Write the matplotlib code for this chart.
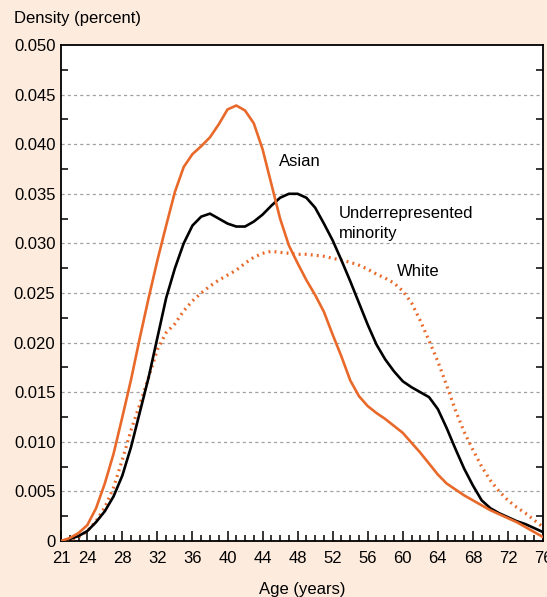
import matplotlib
matplotlib.use("Agg")
import matplotlib.pyplot as plt
from matplotlib.ticker import MultipleLocator, FixedLocator

plt.rcParams['font.family'] = ['Liberation Sans', 'DejaVu Sans']

ages = list(range(21, 77))
asian = [0, 0.0003, 0.0008, 0.0016, 0.0033, 0.0058, 0.0088, 0.0125, 0.0163, 0.0205,
         0.0245, 0.0283, 0.0318, 0.0352, 0.0377, 0.039, 0.0398, 0.0407, 0.042, 0.0435,
         0.0439, 0.0434, 0.0421, 0.0395, 0.036, 0.0325, 0.0298, 0.028, 0.0263, 0.0248,
         0.0231, 0.0208, 0.0186, 0.0162, 0.0146, 0.0136, 0.0129, 0.0123, 0.0116, 0.0109,
         0.0099, 0.0089, 0.0078, 0.0067, 0.0058, 0.0052, 0.0046, 0.0041, 0.0036, 0.0031,
         0.0027, 0.0023, 0.0019, 0.0014, 0.0009, 0.0004]
urm = [0, 0.0002, 0.0005, 0.001, 0.0019, 0.003, 0.0045, 0.0066, 0.0095, 0.013,
       0.0165, 0.0205, 0.0245, 0.0275, 0.030, 0.0318, 0.0327, 0.033, 0.0325, 0.032,
       0.0317, 0.0317, 0.0322, 0.0329, 0.0338, 0.0346, 0.035, 0.035, 0.0346, 0.0336,
       0.032, 0.0303, 0.0283, 0.0262, 0.024, 0.0218, 0.0198, 0.0183, 0.0171, 0.0161,
       0.0155, 0.015, 0.0145, 0.0133, 0.0114, 0.0093, 0.0073, 0.0056, 0.0041, 0.0033,
       0.0028, 0.0024, 0.002, 0.0017, 0.0013, 0.0009]
white = [0, 0.0001, 0.0004, 0.001, 0.002, 0.0034, 0.0054, 0.0082, 0.0112, 0.0138,
         0.0165, 0.0193, 0.021, 0.0219, 0.0232, 0.0242, 0.025, 0.0257, 0.0263, 0.0268,
         0.0273, 0.028, 0.0286, 0.029, 0.0292, 0.0291, 0.029, 0.0289, 0.0289, 0.0288,
         0.0287, 0.0285, 0.0283, 0.0281, 0.0278, 0.0274, 0.0269, 0.0265, 0.026, 0.0252,
         0.024, 0.0222, 0.0202, 0.0181, 0.0157, 0.0132, 0.011, 0.0092, 0.0075, 0.0061,
         0.005, 0.0041, 0.0034, 0.0028, 0.0021, 0.0014]

xtick_vals = [21, 24, 28, 32, 36, 40, 44, 48, 52, 56, 60, 64, 68, 72, 76]
ytick_vals = [0, 0.005, 0.010, 0.015, 0.020, 0.025, 0.030, 0.035, 0.040, 0.045, 0.050]
ytick_labels = ["0", "0.005", "0.010", "0.015", "0.020", "0.025", "0.030", "0.035",
                "0.040", "0.045", "0.050"]

bg = "#fdebde"
orange = "#e8692a"

fig = plt.figure(figsize=(5.47, 5.97), dpi=100, facecolor=bg)
ax = fig.add_axes([61/547, 1-541/597, 482/547, 496/597])
ax.set_facecolor("white")

for v in ytick_vals[1:-1]:
    ax.axhline(v, color="#a0a0a0", lw=0.9, ls=(0, (2.5, 2.5)), zorder=1)

ax.plot(ages, white, color=orange, lw=2.3, ls=(0, (0.6, 1.3)), zorder=3)
ax.plot(ages, urm, color="black", lw=1.9, zorder=4)
ax.plot(ages, asian, color=orange, lw=1.9, zorder=5)

ax.set_xlim(21, 76)
ax.set_ylim(0, 0.050)
ax.xaxis.set_major_locator(FixedLocator(xtick_vals))
ax.set_xticklabels([str(v) for v in xtick_vals])
ax.xaxis.set_minor_locator(MultipleLocator(1))
ax.yaxis.set_major_locator(FixedLocator(ytick_vals))
ax.set_yticklabels(ytick_labels)
ax.yaxis.set_minor_locator(MultipleLocator(0.0025))

ax.tick_params(axis="x", which="major", direction="in", length=7, width=1.1,
               labelsize=12, pad=7, top=False)
ax.tick_params(axis="x", which="minor", direction="in", length=4, width=1.1, top=False)
ax.tick_params(axis="y", which="major", direction="in", length=0, labelsize=12, pad=4)
ax.tick_params(axis="y", which="minor", direction="in", length=5, width=1.1,
               left=True, right=True)
for s in ax.spines.values():
    s.set_linewidth(1.3)
    s.set_color("black")

ax.set_xlabel("Age (years)", fontsize=12, labelpad=12)

fig.text(14/547, 1-18/597, "Density (percent)", fontsize=12, va="center", ha="left")

ax.text(45.9, 0.0383, "Asian", fontsize=12, va="center", ha="left")
ax.text(52.7, 0.0320, "Underrepresented\nminority", fontsize=12, va="center",
        ha="left", linespacing=1.35)
ax.text(59.3, 0.0272, "White", fontsize=12, va="center", ha="left")

fig.savefig("out.png", dpi=100, facecolor=bg)
